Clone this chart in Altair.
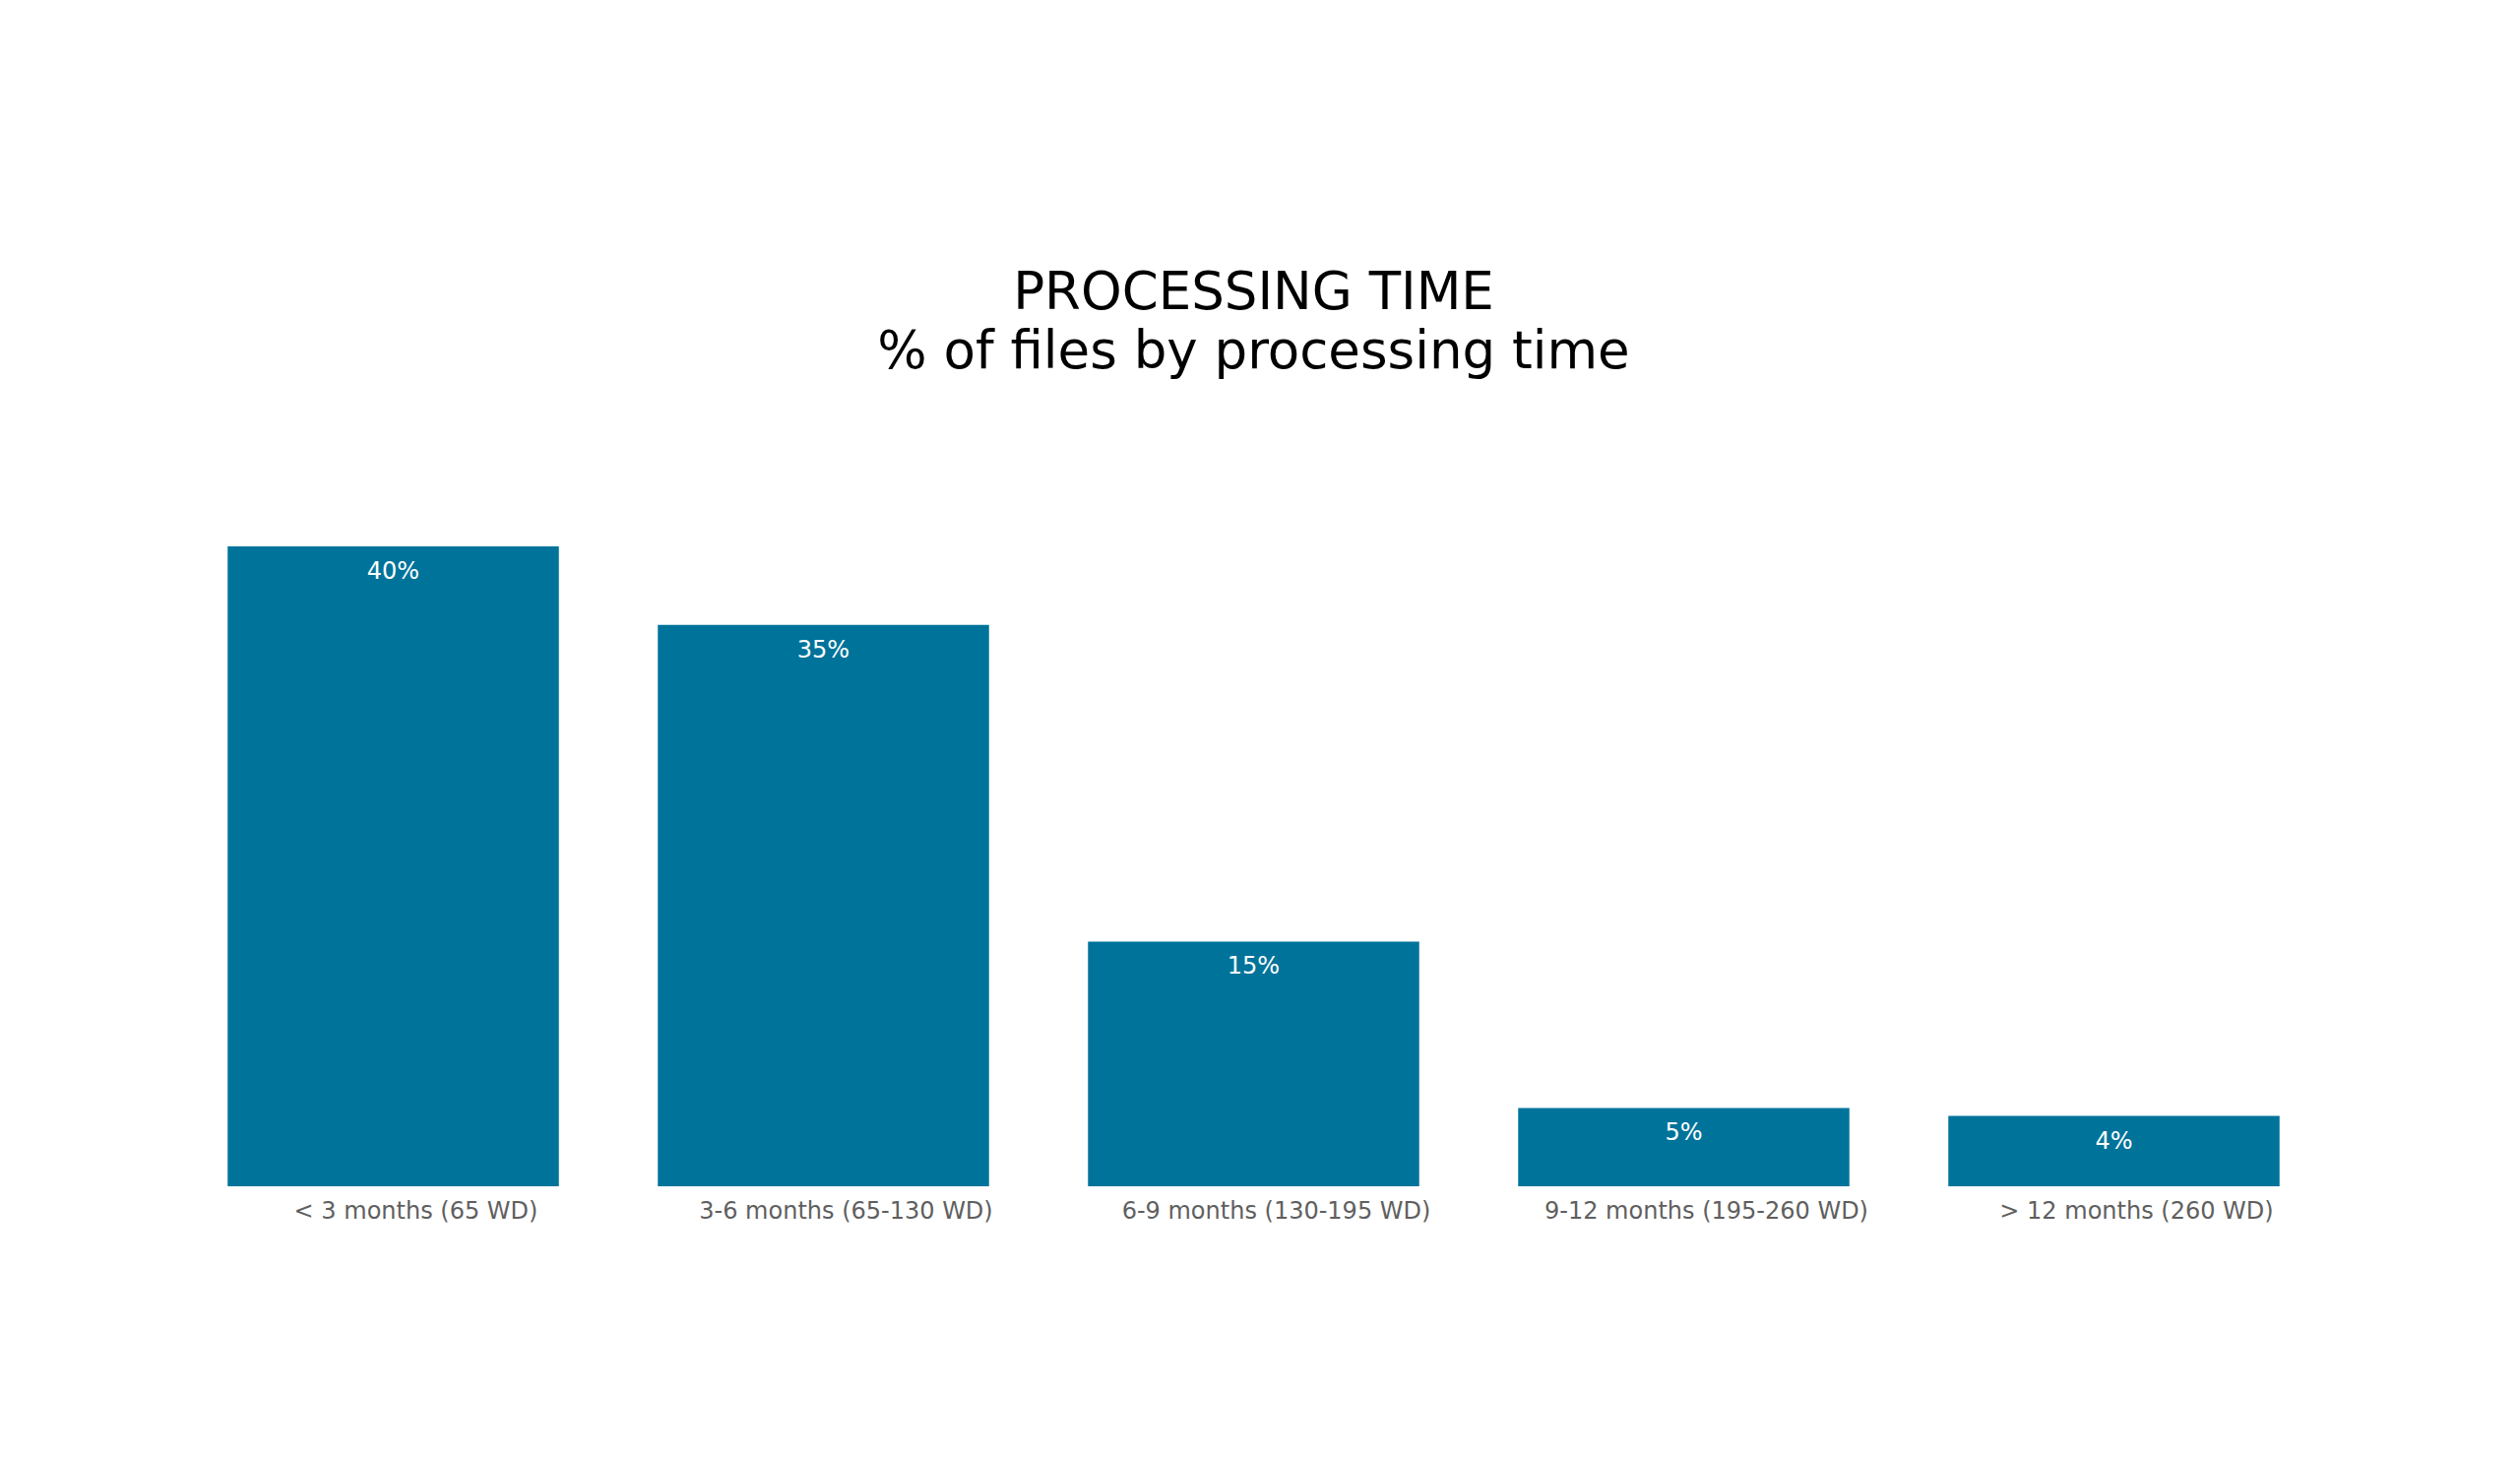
import altair as alt
import pandas as pd

categories = [
    "< 3 months (65 WD)",
    "3-6 months (65-130 WD)",
    "6-9 months (130-195 WD)",
    "9-12 months (195-260 WD)",
    "> 12 months (260 WD)",
]
shares = [40.0, 35.1, 15.3, 4.9, 4.4]
share_labels = ["40%", "35%", "15%", "5%", "4%"]

df = pd.DataFrame({"cat": categories, "share": shares, "label": share_labels})

FONT = "DejaVu Sans"
BAR = "#00739A"

x_enc = alt.X(
    "cat:N",
    sort=categories,
    title=None,
    scale=alt.Scale(paddingInner=0.23, paddingOuter=0.115),
    axis=alt.Axis(
        labelAngle=0,
        labelFont=FONT,
        labelFontSize=24,
        labelColor="#5f5f5f",
        labelPadding=13,
        labelOffset=23,
        labelLimit=500,
        ticks=False,
        tickSize=0,
        domain=False,
        grid=False,
    ),
)
y_enc = alt.Y(
    "share:Q",
    title=None,
    scale=alt.Scale(domain=[0, 40], nice=False),
    axis=None,
)

bars = alt.Chart(df).mark_bar(color=BAR).encode(x=x_enc, y=y_enc)

text = alt.Chart(df).mark_text(
    font=FONT, fontSize=24, color="white", baseline="top", align="center", dy=14
).encode(x=alt.X("cat:N", sort=categories), y="share:Q", text="label:N")

chart = (
    alt.layer(bars, text)
    .properties(
        width=2185,
        height=650,
        padding={"left": 173, "top": 264, "right": 20, "bottom": 20},
        title=alt.TitleParams(
            text=["PROCESSING TIME", "% of files by processing time"],
            font=FONT,
            fontSize=53,
            fontWeight="normal",
            color="black",
            lineHeight=60,
            anchor="middle",
            offset=170,
        ),
    )
    .configure(background="white", view=alt.ViewConfig(strokeWidth=0, stroke="transparent"))
)

chart.save("out.html", embed_options={"renderer": "svg", "actions": False})
